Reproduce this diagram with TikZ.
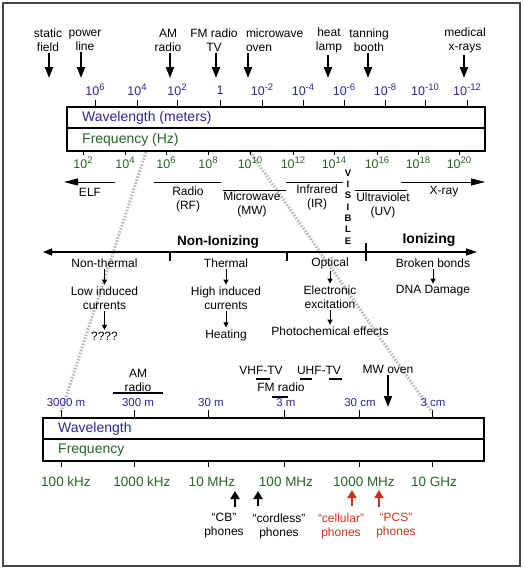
\documentclass[tikz,border=0pt]{standalone}
\usepackage{fontspec}
\setmainfont{Liberation Sans}
\usetikzlibrary{arrows.meta}
\definecolor{wlblue}{RGB}{40,40,150}
\definecolor{frgreen}{RGB}{40,100,40}
\definecolor{phred}{RGB}{200,50,25}
\newcommand{\tenpow}[1]{10\raisebox{0.42em}{\fontsize{9.5}{10}\selectfont#1}}

\begin{document}
\begin{tikzpicture}[x=1pt, y=-1pt, font=\fontsize{12}{14}\selectfont,
            txt/.style = {align=center, inner sep=0pt, outer sep=2pt},
            phone/.style = {txt, outer ysep=7pt},
            boxtxt/.style = {anchor=west, inner sep=0pt, font=\fontsize{14}{16}\selectfont},
            wl/.style = {text=wlblue, inner sep=0pt, font=\fontsize{12.5}{14}\selectfont},
            fr/.style = {text=frgreen, inner sep=0pt, font=\fontsize{12.5}{14}\selectfont},
            bigarrow/.style = {-{Triangle[length=11pt,width=8pt]}, line width=1.8pt},
            uparrow/.style = {-{Triangle[length=8pt,width=9pt]}, line width=1.8pt},
            smallarrow/.style = {-{Triangle[length=5pt,width=5pt]}, line width=0.9pt},
            bandarrow/.style = {-{Triangle[length=14pt,width=7pt]}, line width=0.9pt},
            zoomline/.style = {draw=gray!55, line width=3pt, dash pattern=on 1.6pt off 1.6pt},
            bar/.style = {line width=1.4pt}]
            \useasboundingbox (0,0) rectangle (524,570);
            \draw[gray!55!black, line width=1.5pt] (3,3) rectangle (520,566);

            \coordinate (zl1) at (146,152);
            \coordinate (zl2) at (61,412);
            \coordinate (zr1) at (250,152);
            \coordinate (zr2) at (432,412);
            \path[zoomline] (zl1) -- (zl2) (zr1) -- (zr2);

            % upper scale
            \draw[line width=1.5pt] (67,107) rectangle (485,151);
            \draw[line width=1.2pt] (67,128) -- (485,128);
            \node[boxtxt, text=wlblue] (wlm) at (82,118) {Wavelength (meters)};
            \node[boxtxt, text=frgreen] (fhz) at (82,140) {Frequency (Hz)};
            \foreach \x/\t in {95/{\tenpow{6}}, 137/{\tenpow{4}}, 177/{\tenpow{2}}, 220/1,
                    262/{\tenpow{-2}}, 303/{\tenpow{-4}}, 344/{\tenpow{-6}},
                    385/{\tenpow{-8}}, 425/{\tenpow{-10}}, 467/{\tenpow{-12}}} {
                \draw[line width=0.9pt] (\x,100) -- (\x,107);
                \node[wl] (w\x) at (\x,90) {\t};
            }
            \foreach \x/\e in {83/2, 125/4, 166/6, 208/8, 250/10, 293/12, 334/14, 377/16, 418/18, 459/20} {
                \draw[line width=0.9pt] (\x,151) -- (\x,155);
                \node[fr] (f\x) at (\x,163) {\tenpow{\e}};
            }

            \foreach \x/\lx/\t [count=\i] in {49/48/{static\\field}, 81/85/{power\\line}, 170/168/{AM\\radio},
                    216/214/{FM radio\\TV}, 328/329/{heat\\lamp}, 368/369/{tanning\\booth}, 464/465/{medical\\x-rays}} {
                \node[txt] (src\i) at (\lx,40) {\t};
                \coordinate (tip\i) at (\x,78);
                \path[bigarrow] (src\i.south -| tip\i) edge (tip\i);
            }
            \node[txt, align=left, anchor=west] (mwv) at (244,40) {microwave\\oven};
            \coordinate (mwvt) at (248,78);
            \path[bigarrow] (mwv.south -| mwvt) edge (mwvt);

            % bands
            \node[txt] (elf) at (90,192) {ELF};
            \node[txt] (rf) at (188,199.5) {Radio\\(RF)};
            \node[txt] (mw) at (252,204.5) {Microwave\\(MW)};
            \node[txt] (ir) at (317,197) {Infrared\\(IR)};
            \node[txt] (uv) at (383,205.5) {Ultraviolet\\(UV)};
            \node[txt] (xr) at (444,192) {X-ray};
            \node[txt, font=\bfseries\fontsize{9.5}{11.3}\selectfont] (vis) at (348,207) {V\\I\\S\\I\\B\\L\\E};
            \draw[bandarrow] (115,182) -- (64,182);
            \draw[line width=0.9pt] (154,182) -- (221,182) (223,190) -- (286,190) (286,182) -- (343,182) (355,190) -- (407,190);
            \draw[bandarrow] (401,182) -- (485,182);

            % effects
            \draw[{Triangle[length=9pt,width=7pt]}-{Triangle[length=11pt,width=7pt]}, line width=1.5pt] (43,252) -- (477,252);
            \draw[line width=1.5pt] (170,252) -- (170,261) (287,252) -- (287,261) (366,243) -- (366,261);
            \node[inner sep=0pt, font=\bfseries\fontsize{13.5}{16}\selectfont] (nion) at (218,242) {Non-Ionizing};
            \node[inner sep=0pt, font=\bfseries\fontsize{14}{16}\selectfont] (ion) at (429,240) {Ionizing};
            \node[txt] (nth) at (104.5,263) {Non-thermal};
            \node[txt] (lic) at (104.5,298) {Low induced\\currents};
            \node[txt] (unk) at (104.5,336) {????};
            \node[txt] (th) at (226,263) {Thermal};
            \node[txt] (hic) at (226,298) {High induced\\currents};
            \node[txt] (heat) at (226,335) {Heating};
            \node[txt] (opt) at (330,263) {Optical};
            \node[txt] (exc) at (330,297) {Electronic\\excitation};
            \node[txt] (pce) at (330,331) {Photochemical effects};
            \node[txt] (bb) at (433,263) {Broken bonds};
            \node[txt] (dna) at (433,291) {DNA Damage};
            \path[smallarrow] (nth) edge (lic) (lic) edge (unk) (th) edge (hic) (hic) edge (heat)
                (opt) edge (exc) (exc) edge (pce) (bb) edge (dna);

            % lower scale
            \draw[line width=1.5pt] (43,418) rectangle (484,461);
            \draw[line width=1.2pt] (43,439) -- (484,439);
            \node[boxtxt, text=wlblue] (wl2) at (58,429) {Wavelength};
            \node[boxtxt, text=frgreen] (fr2) at (58,450) {Frequency};
            \foreach \x/\lx/\w/\fx/\f in {61/66/{3000 m}/66/{100 kHz}, 134/138/{300 m}/142/{1000 kHz},
                    208/211/{30 m}/212/{10 MHz}, 284/286/{3 m}/286/{100 MHz},
                    359/360/{30 cm}/364/{1000 MHz}, 432/433/{3 cm}/434/{10 GHz}} {
                \draw[line width=0.9pt] (\x,410) -- (\x,418) (\x,461) -- (\x,467);
                \node[wl, font=\fontsize{11.5}{14}\selectfont] (bw\x) at (\lx,403) {\w};
                \node[fr, font=\fontsize{13.5}{16}\selectfont] (bf\x) at (\fx,482) {\f};
            }
            \node[txt] (amr) at (138,380) {AM\\radio};
            \node[txt] (vhf) at (261,370) {VHF-TV};
            \node[txt] (uhf) at (319,370) {UHF-TV};
            \node[txt] (fmr) at (281,387) {FM radio};
            \draw[bar] (113,393) -- (163,393) (256,379) -- (270,379) (300,379) -- (312,379) (329,379) -- (342,379)
                (272,397) -- (288,397);
            \node[txt] (mwo) at (388,369) {MW oven};
            \coordinate (mwot) at (388,407);
            \path[bigarrow] (mwo.south -| mwot) edge (mwot);

            \node[phone] (cb) at (224,526) {“CB”\\phones};
            \node[phone] (cl) at (279,526) {“cordless”\\phones};
            \node[phone, text=phred] (cel) at (341,526) {“cellular”\\phones};
            \node[phone, text=phred] (pcs) at (396,526) {“PCS”\\phones};
            \coordinate (cbt) at (235,491);
            \coordinate (clt) at (258,491);
            \coordinate (celt) at (352,490);
            \coordinate (pcst) at (379,490);
            \path[uparrow] (cb.north -| cbt) edge (cbt) (cl.north -| clt) edge (clt);
            \path[uparrow, phred] (cel.north -| celt) edge (celt) (pcs.north -| pcst) edge (pcst);
        \end{tikzpicture}
\end{document}
